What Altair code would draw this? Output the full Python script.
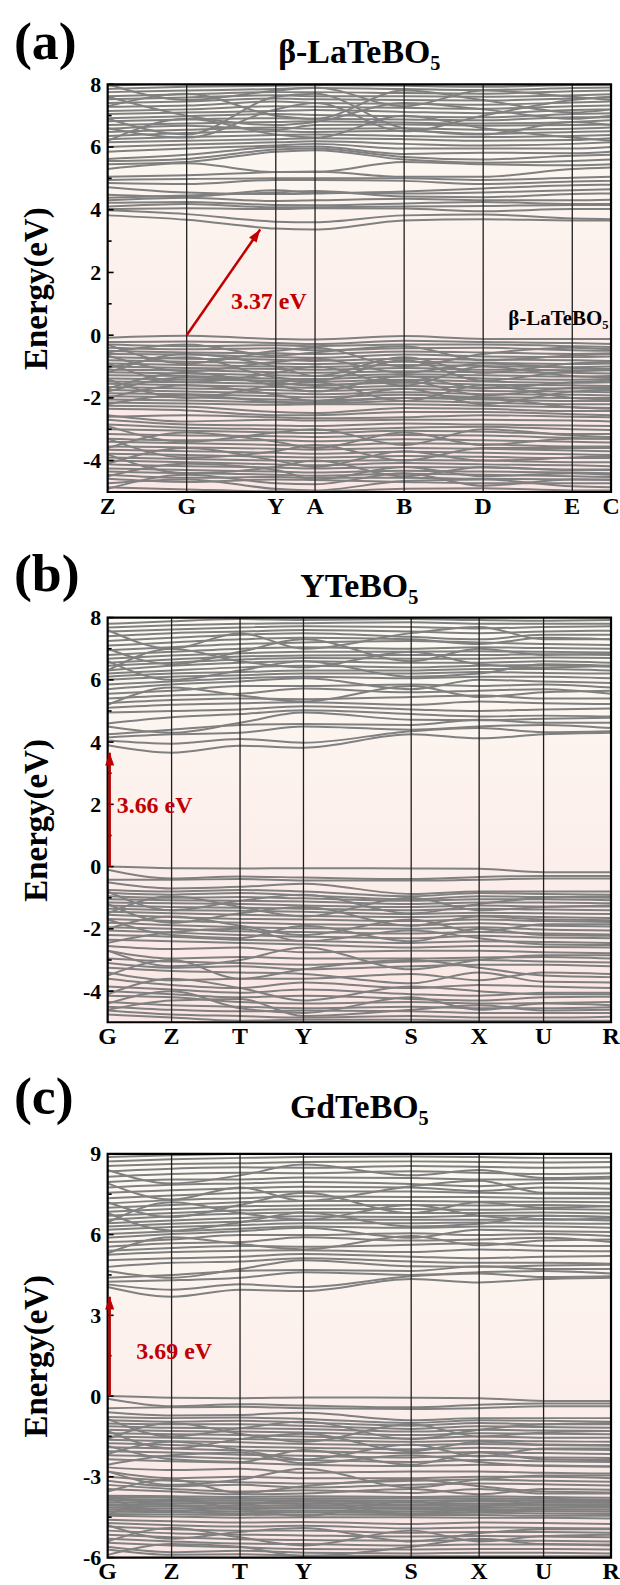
import math
import altair as alt
import pandas as pd

FONT = "Liberation Serif"
W = 505
BAND_COLOR = "#808080"
RED = "#c00000"

# ---------------- (a) beta-LaTeBO5 ----------------
A_NAME = "β-LaTeBO₅"
A_KLABELS = ["Z", "G", "Y", "A", "B", "D", "E", "C"]
A_KPOS = [0.0, 0.157, 0.334, 0.412, 0.589, 0.746, 0.923, 1.0]
A_YDOMAIN = [-5, 8]
A_TICKS = [-4, -2, 0, 2, 4, 6, 8]
A_MINOR = [-3, -1, 1, 3, 5, 7]
A_GAP = 3.37
A_CB = [
    [3.82, 3.68, 3.40, 3.37, 3.66, 3.70, 3.66, 3.66],
    [3.98, 3.86, 3.62, 3.60, 3.82, 3.85, 3.72, 3.70],
    [4.02, 4.05, 4.02, 4.05, 4.04, 3.95, 4.02, 4.02],
    [4.10, 4.18, 4.08, 4.08, 4.10, 4.12, 4.15, 4.15],
    [4.22, 4.25, 4.15, 4.14, 4.20, 4.25, 4.18, 4.18],
    [4.30, 4.38, 4.28, 4.30, 4.35, 4.30, 4.30, 4.32],
    [4.38, 4.45, 4.55, 4.60, 4.42, 4.40, 4.50, 4.52],
    [4.48, 4.42, 4.62, 4.55, 4.52, 4.55, 4.62, 4.65],
    [4.72, 4.55, 4.50, 4.52, 4.58, 4.68, 4.78, 4.80],
    [4.85, 4.82, 4.95, 4.95, 4.92, 4.82, 4.90, 4.92],
    [4.95, 4.98, 5.00, 5.00, 5.00, 4.95, 5.02, 5.05],
    [5.05, 5.10, 5.20, 5.22, 5.05, 5.05, 5.30, 5.35],
    [5.30, 5.48, 5.20, 5.20, 5.52, 5.45, 5.42, 5.45],
    [5.45, 5.52, 5.85, 5.90, 5.60, 5.50, 5.55, 5.60],
    [5.55, 5.62, 5.92, 5.95, 5.68, 5.60, 5.72, 5.75],
    [5.62, 5.75, 6.00, 6.02, 5.78, 5.82, 5.80, 5.85],
    [5.85, 5.95, 6.05, 6.10, 5.95, 5.95, 5.95, 6.00],
    [6.00, 6.08, 6.15, 6.18, 6.10, 6.05, 6.10, 6.15],
    [6.15, 6.20, 6.25, 6.28, 6.25, 6.20, 6.22, 6.28],
    [6.25, 6.32, 6.38, 6.40, 6.35, 6.32, 6.35, 6.38],
    [6.35, 6.45, 6.50, 6.48, 6.52, 6.42, 6.48, 6.50],
    [6.48, 6.55, 6.62, 6.58, 6.60, 6.55, 6.58, 6.62],
    [6.58, 6.68, 6.55, 6.70, 6.72, 6.68, 6.70, 6.72],
    [6.70, 6.75, 6.80, 6.82, 6.78, 6.75, 6.80, 6.85],
    [6.82, 6.88, 6.92, 6.90, 6.88, 6.85, 6.95, 6.95],
    [6.92, 6.98, 7.05, 7.02, 6.98, 6.95, 7.05, 7.08],
    [7.05, 7.10, 7.15, 7.18, 7.12, 7.08, 7.18, 7.20],
    [7.15, 7.20, 7.30, 7.28, 7.25, 7.22, 7.30, 7.32],
    [7.28, 7.32, 7.45, 7.40, 7.38, 7.35, 7.42, 7.45],
    [7.40, 7.45, 7.55, 7.52, 7.50, 7.48, 7.55, 7.58],
    [7.52, 7.58, 7.65, 7.62, 7.62, 7.60, 7.65, 7.68],
    [7.62, 7.68, 7.75, 7.75, 7.72, 7.70, 7.78, 7.80],
    [7.75, 7.80, 7.85, 7.88, 7.85, 7.82, 7.88, 7.90],
    [7.85, 7.92, 7.95, 7.98, 7.95, 7.92, 7.98, 8.00],
    [7.95, 8.05, 8.10, 8.05, 8.08, 8.02, 8.08, 8.10],
    [6.20, 6.90, 6.40, 6.30, 7.00, 6.60, 6.30, 6.20],
    [7.60, 7.00, 6.70, 6.80, 7.40, 7.20, 6.90, 7.00],
    [6.60, 6.30, 7.20, 7.40, 6.50, 7.00, 7.50, 7.60],
    [7.30, 7.70, 7.00, 6.90, 7.80, 7.50, 7.10, 7.20],
    [6.90, 6.40, 7.60, 7.70, 6.60, 6.40, 6.80, 6.70],
    [8.00, 7.50, 7.80, 7.90, 7.30, 7.80, 7.60, 7.50],
]
A_VB = [
    [-0.08, -0.02, -0.12, -0.14, -0.03, -0.12, -0.12, -0.12],
    [-0.22, -0.20, -0.25, -0.28, -0.18, -0.22, -0.25, -0.28],
    [-0.30, -0.35, -0.32, -0.35, -0.30, -0.30, -0.35, -0.38],
    [-0.40, -0.45, -0.42, -0.48, -0.42, -0.40, -0.48, -0.50],
    [-0.50, -0.55, -0.58, -0.60, -0.52, -0.55, -0.60, -0.58],
    [-0.60, -0.62, -0.70, -0.72, -0.62, -0.68, -0.70, -0.68],
    [-0.70, -0.75, -0.78, -0.82, -0.75, -0.78, -0.80, -0.82],
    [-0.80, -0.85, -0.90, -0.92, -0.85, -0.88, -0.92, -0.90],
    [-0.90, -0.95, -1.00, -1.02, -0.95, -0.98, -1.02, -1.00],
    [-1.00, -1.05, -1.08, -1.10, -1.05, -1.10, -1.12, -1.10],
    [-1.10, -1.12, -1.18, -1.20, -1.15, -1.18, -1.20, -1.22],
    [-1.18, -1.22, -1.28, -1.30, -1.25, -1.28, -1.32, -1.30],
    [-1.28, -1.30, -1.38, -1.40, -1.32, -1.38, -1.42, -1.40],
    [-1.38, -1.42, -1.45, -1.48, -1.42, -1.48, -1.52, -1.50],
    [-1.48, -1.50, -1.55, -1.58, -1.52, -1.58, -1.60, -1.62],
    [-1.55, -1.60, -1.65, -1.68, -1.62, -1.68, -1.70, -1.72],
    [-1.65, -1.70, -1.75, -1.78, -1.72, -1.78, -1.80, -1.82],
    [-1.75, -1.80, -1.85, -1.88, -1.82, -1.88, -1.90, -1.92],
    [-1.85, -1.88, -1.95, -1.98, -1.90, -1.98, -2.00, -2.00],
    [-1.95, -1.98, -2.05, -2.08, -2.00, -2.05, -2.10, -2.10],
    [-2.05, -2.08, -2.15, -2.18, -2.10, -2.15, -2.20, -2.20],
    [-2.15, -2.18, -2.22, -2.20, -2.20, -2.25, -2.30, -2.32],
    [-2.25, -2.28, -2.45, -2.48, -2.32, -2.35, -2.42, -2.42],
    [-2.35, -2.40, -2.55, -2.55, -2.45, -2.45, -2.52, -2.55],
    [-0.30, -0.90, -0.50, -0.40, -1.00, -0.60, -0.40, -0.45],
    [-1.20, -0.60, -1.00, -1.30, -0.70, -1.20, -0.90, -0.85],
    [-0.90, -1.50, -1.20, -1.00, -1.60, -1.00, -1.30, -1.35],
    [-1.70, -1.20, -1.60, -1.80, -1.30, -1.70, -1.50, -1.45],
    [-2.00, -1.60, -1.90, -2.10, -1.70, -2.20, -1.80, -1.75],
    [-1.40, -2.00, -1.60, -1.50, -2.10, -1.60, -2.00, -2.05],
    [-0.55, -0.30, -0.65, -0.55, -0.35, -0.80, -0.65, -0.60],
    [-2.20, -1.90, -2.12, -2.14, -2.00, -2.00, -2.30, -2.35],
    [-0.65, -1.15, -0.85, -0.75, -1.20, -0.90, -1.05, -1.08],
    [-1.05, -0.70, -1.35, -1.45, -0.80, -1.45, -1.15, -1.12],
    [-1.80, -1.35, -1.50, -1.62, -1.45, -1.92, -1.68, -1.66],
    [-2.60, -2.55, -2.62, -2.65, -2.62, -2.55, -2.60, -2.62],
    [-2.55, -2.75, -2.70, -2.72, -2.70, -2.70, -2.72, -2.75],
    [-2.70, -2.85, -2.88, -2.90, -2.82, -2.85, -2.88, -2.90],
    [-2.85, -2.95, -3.00, -3.02, -2.95, -2.92, -3.00, -3.02],
    [-3.00, -3.05, -3.10, -3.12, -3.05, -3.08, -3.15, -3.15],
    [-3.15, -3.20, -3.22, -3.25, -3.18, -3.20, -3.28, -3.30],
    [-3.30, -3.35, -3.35, -3.38, -3.32, -3.35, -3.40, -3.42],
    [-3.40, -3.45, -3.50, -3.52, -3.45, -3.48, -3.55, -3.55],
    [-3.55, -3.58, -3.62, -3.65, -3.60, -3.62, -3.68, -3.70],
    [-3.65, -3.70, -3.75, -3.78, -3.72, -3.75, -3.80, -3.82],
    [-3.78, -3.82, -3.88, -3.90, -3.85, -3.88, -3.92, -3.92],
    [-3.90, -3.95, -4.00, -4.02, -3.98, -4.00, -4.05, -4.05],
    [-4.00, -4.05, -4.12, -4.15, -4.08, -4.12, -4.15, -4.18],
    [-4.12, -4.18, -4.22, -4.25, -4.20, -4.22, -4.28, -4.28],
    [-4.25, -4.30, -4.35, -4.38, -4.32, -4.35, -4.38, -4.40],
    [-4.35, -4.40, -4.45, -4.48, -4.42, -4.45, -4.50, -4.52],
    [-4.45, -4.55, -4.52, -4.55, -4.55, -4.58, -4.60, -4.62],
    [-4.58, -4.68, -4.60, -4.62, -4.68, -4.72, -4.72, -4.72],
    [-4.72, -4.60, -4.90, -4.95, -4.65, -4.60, -4.82, -4.85],
    [-4.85, -4.92, -4.98, -4.98, -4.90, -4.88, -4.95, -4.95],
    [-2.90, -3.40, -3.10, -3.00, -3.50, -3.00, -3.20, -3.25],
    [-3.60, -3.10, -3.40, -3.60, -3.10, -3.50, -3.30, -3.30],
    [-3.30, -3.90, -3.70, -3.50, -4.00, -3.60, -3.60, -3.60],
    [-4.10, -3.60, -4.00, -4.20, -3.70, -4.00, -3.90, -3.85],
    [-3.80, -4.40, -4.20, -4.00, -4.50, -4.20, -4.30, -4.30],
    [-4.50, -4.10, -4.30, -4.60, -4.20, -4.50, -4.40, -4.45],
    [-4.90, -4.45, -4.72, -4.75, -4.40, -4.80, -4.60, -4.60],
]

# ---------------- (b) YTeBO5 ----------------
B_NAME = "YTeBO₅"
B_KLABELS = ["G", "Z", "T", "Y", "S", "X", "U", "R"]
B_KPOS = [0.0, 0.127, 0.263, 0.389, 0.603, 0.738, 0.866, 1.0]
B_YDOMAIN = [-5, 8]
B_TICKS = [-4, -2, 0, 2, 4, 6, 8]
B_MINOR = [-3, -1, 1, 3, 5, 7]
B_GAP = 3.66
B_CB = [
    [3.90, 3.66, 3.88, 3.82, 4.25, 4.12, 4.25, 4.30],
    [4.05, 3.95, 4.10, 3.98, 4.35, 4.45, 4.32, 4.35],
    [4.15, 4.25, 4.30, 4.50, 4.40, 4.50, 4.55, 4.45],
    [4.25, 4.40, 4.55, 4.58, 4.55, 4.72, 4.62, 4.62],
    [4.50, 4.30, 4.62, 4.95, 4.72, 4.70, 4.75, 4.78],
    [4.60, 4.80, 4.90, 5.02, 4.90, 4.82, 4.85, 4.82],
    [4.95, 5.00, 5.05, 5.15, 5.05, 5.00, 5.05, 5.08],
    [5.10, 5.20, 5.25, 5.28, 5.20, 5.30, 5.25, 5.22],
    [5.25, 5.35, 5.40, 5.38, 5.45, 5.50, 5.40, 5.40],
    [5.40, 5.50, 5.55, 5.72, 5.60, 5.65, 5.70, 5.55],
    [5.55, 5.65, 5.80, 5.80, 5.85, 5.80, 5.85, 5.75],
    [5.70, 5.85, 5.95, 6.05, 5.70, 6.00, 5.95, 5.90],
    [5.85, 5.95, 6.05, 6.10, 6.05, 6.10, 6.10, 6.05],
    [6.00, 6.10, 6.15, 6.20, 6.20, 6.25, 6.22, 6.20],
    [6.10, 6.20, 6.25, 6.30, 6.30, 6.35, 6.35, 6.30],
    [6.20, 6.30, 6.40, 6.45, 6.40, 6.45, 6.48, 6.42],
    [6.30, 6.45, 6.55, 6.60, 6.55, 6.55, 6.60, 6.55],
    [6.45, 6.55, 6.65, 6.70, 6.68, 6.68, 6.72, 6.70],
    [6.55, 6.65, 6.75, 6.78, 6.80, 6.80, 6.82, 6.80],
    [6.68, 6.78, 6.85, 6.90, 6.90, 6.92, 6.90, 6.88],
    [6.80, 6.90, 7.00, 7.05, 7.00, 7.05, 7.02, 7.00],
    [6.95, 7.05, 7.15, 7.20, 7.25, 7.20, 7.15, 7.12],
    [7.10, 7.20, 7.30, 7.35, 7.30, 7.15, 7.35, 7.30],
    [7.25, 7.35, 7.45, 7.50, 7.38, 7.30, 7.45, 7.45],
    [7.40, 7.50, 7.55, 7.60, 7.55, 7.50, 7.55, 7.58],
    [7.55, 7.62, 7.68, 7.72, 7.70, 7.65, 7.70, 7.72],
    [7.68, 7.75, 7.80, 7.82, 7.85, 7.80, 7.80, 7.80],
    [7.80, 7.88, 7.95, 7.92, 7.95, 7.92, 7.90, 7.92],
    [6.30, 7.00, 6.60, 6.40, 6.90, 6.50, 6.40, 6.45],
    [7.00, 6.50, 6.90, 7.30, 6.60, 7.00, 6.80, 6.85],
    [7.60, 7.00, 7.50, 7.00, 7.50, 7.70, 7.30, 7.30],
    [5.20, 5.75, 5.50, 5.30, 5.80, 5.45, 5.60, 5.65],
    [6.60, 6.00, 6.30, 6.60, 6.10, 6.20, 6.50, 6.45],
]
B_VB = [
    [0.00, -0.05, -0.06, -0.05, -0.06, -0.07, -0.18, -0.18],
    [-0.10, -0.38, -0.32, -0.35, -0.40, -0.33, -0.30, -0.30],
    [-0.42, -0.42, -0.40, -0.45, -0.45, -0.42, -0.38, -0.38],
    [-0.50, -0.70, -0.65, -0.55, -0.88, -0.80, -0.80, -0.80],
    [-0.75, -0.80, -0.75, -0.80, -0.95, -0.85, -0.88, -0.90],
    [-0.85, -0.90, -0.85, -0.92, -1.05, -0.95, -0.98, -1.00],
    [-0.95, -1.00, -0.98, -1.02, -1.10, -1.05, -1.05, -1.08],
    [-1.05, -1.08, -1.10, -1.12, -1.20, -1.15, -1.15, -1.18],
    [-1.15, -1.18, -1.20, -1.25, -1.30, -1.25, -1.28, -1.28],
    [-1.25, -1.30, -1.32, -1.35, -1.40, -1.35, -1.38, -1.40],
    [-1.35, -1.40, -1.42, -1.45, -1.52, -1.48, -1.50, -1.52],
    [-1.45, -1.50, -1.55, -1.58, -1.62, -1.58, -1.62, -1.65],
    [-1.55, -1.62, -1.68, -1.70, -1.75, -1.70, -1.75, -1.78],
    [-1.68, -1.75, -1.80, -1.85, -1.88, -1.82, -1.90, -1.92],
    [-1.80, -1.88, -1.95, -1.98, -2.00, -1.95, -2.02, -2.05],
    [-1.95, -2.00, -2.08, -2.10, -2.15, -2.10, -2.15, -2.18],
    [-2.05, -2.12, -2.20, -2.25, -2.30, -2.22, -2.28, -2.30],
    [-2.20, -2.25, -2.35, -2.38, -2.45, -2.40, -2.42, -2.45],
    [-2.35, -2.40, -2.45, -2.50, -2.60, -2.55, -2.58, -2.60],
    [-0.80, -1.40, -1.10, -0.90, -1.50, -1.20, -1.00, -0.95],
    [-1.50, -0.95, -1.30, -1.60, -1.00, -1.40, -1.30, -1.25],
    [-1.20, -1.80, -1.50, -1.30, -1.90, -1.60, -1.70, -1.72],
    [-2.00, -1.60, -1.90, -2.20, -1.70, -2.10, -1.85, -1.85],
    [-1.70, -2.20, -2.30, -1.90, -2.40, -2.00, -2.20, -2.22],
    [-2.45, -2.10, -2.00, -2.40, -2.05, -2.30, -2.50, -2.52],
    [-2.55, -2.65, -2.60, -2.75, -2.70, -2.70, -2.75, -2.78],
    [-2.70, -2.95, -2.90, -2.95, -2.95, -2.92, -2.90, -2.95],
    [-2.95, -3.05, -3.10, -3.15, -3.05, -3.00, -3.05, -3.08],
    [-3.10, -3.25, -3.20, -3.30, -3.20, -3.15, -3.15, -3.20],
    [-3.25, -3.35, -3.40, -3.45, -3.75, -3.40, -3.70, -3.72],
    [-3.40, -3.65, -3.60, -3.60, -3.45, -3.65, -3.40, -3.45],
    [-3.60, -3.80, -3.90, -3.72, -3.90, -3.80, -3.85, -3.90],
    [-3.85, -3.95, -4.05, -3.95, -4.10, -4.15, -4.05, -4.05],
    [-4.00, -4.10, -4.20, -4.15, -4.25, -4.30, -4.20, -4.18],
    [-4.15, -4.20, -4.35, -4.40, -4.35, -4.40, -4.38, -4.35],
    [-4.35, -4.45, -4.50, -4.55, -4.50, -4.55, -4.55, -4.52],
    [-4.50, -4.60, -4.65, -4.62, -4.65, -4.70, -4.70, -4.70],
    [-4.62, -4.75, -4.80, -4.85, -4.80, -4.85, -4.85, -4.82],
    [-4.75, -4.85, -4.95, -4.92, -4.92, -4.95, -4.95, -4.95],
    [-2.70, -3.20, -3.00, -2.60, -3.30, -3.00, -2.85, -2.85],
    [-3.50, -3.00, -3.60, -3.30, -3.00, -3.25, -3.50, -3.55],
    [-4.10, -3.60, -3.90, -4.30, -3.85, -4.00, -4.10, -4.10],
    [-4.40, -4.00, -4.55, -4.70, -4.20, -4.60, -4.40, -4.45],
    [-4.60, -4.30, -4.25, -4.80, -4.60, -4.45, -4.62, -4.60],
]

# ---------------- (c) GdTeBO5 ----------------
C_NAME = "GdTeBO₅"
C_KLABELS = ["G", "Z", "T", "Y", "S", "X", "U", "R"]
C_KPOS = [0.0, 0.127, 0.263, 0.389, 0.603, 0.738, 0.866, 1.0]
C_YDOMAIN = [-6, 9]
C_TICKS = [-6, -3, 0, 3, 6, 9]
C_MINOR = [-4.5, -1.5, 1.5, 4.5, 7.5]
C_GAP = 3.69
C_CB = [
    [4.05, 3.69, 3.95, 3.90, 4.35, 4.22, 4.35, 4.40],
    [4.15, 3.95, 4.15, 4.05, 4.45, 4.55, 4.42, 4.45],
    [4.25, 4.30, 4.40, 4.60, 4.50, 4.60, 4.65, 4.55],
    [4.40, 4.50, 4.65, 4.68, 4.65, 4.82, 4.72, 4.72],
    [4.65, 4.40, 4.72, 5.05, 4.82, 4.80, 4.85, 4.88],
    [4.80, 4.95, 5.00, 5.12, 5.00, 4.95, 4.95, 4.92],
    [5.05, 5.12, 5.18, 5.28, 5.18, 5.12, 5.18, 5.20],
    [5.25, 5.35, 5.40, 5.42, 5.35, 5.45, 5.40, 5.38],
    [5.40, 5.50, 5.58, 5.55, 5.62, 5.68, 5.58, 5.58],
    [5.55, 5.68, 5.72, 5.90, 5.78, 5.82, 5.88, 5.72],
    [5.72, 5.82, 5.98, 5.98, 6.05, 5.98, 6.02, 5.95],
    [5.88, 6.02, 6.12, 6.25, 5.88, 6.18, 6.12, 6.10],
    [6.02, 6.12, 6.22, 6.30, 6.25, 6.30, 6.30, 6.25],
    [6.18, 6.28, 6.35, 6.42, 6.42, 6.45, 6.42, 6.40],
    [6.30, 6.40, 6.48, 6.55, 6.55, 6.55, 6.58, 6.52],
    [6.42, 6.52, 6.62, 6.68, 6.65, 6.70, 6.70, 6.65],
    [6.55, 6.68, 6.78, 6.82, 6.80, 6.80, 6.82, 6.78],
    [6.70, 6.80, 6.90, 6.95, 6.95, 6.92, 6.95, 6.92],
    [6.85, 6.95, 7.05, 7.08, 7.10, 7.08, 7.10, 7.05],
    [7.00, 7.10, 7.20, 7.25, 7.25, 7.22, 7.22, 7.20],
    [7.15, 7.28, 7.35, 7.42, 7.40, 7.40, 7.35, 7.35],
    [7.35, 7.45, 7.55, 7.60, 7.60, 7.55, 7.52, 7.50],
    [7.55, 7.65, 7.72, 7.78, 7.75, 7.62, 7.75, 7.70],
    [7.75, 7.85, 7.90, 7.95, 7.88, 7.80, 7.92, 7.90],
    [7.95, 8.05, 8.05, 8.12, 8.10, 8.05, 8.05, 8.08],
    [8.15, 8.25, 8.30, 8.28, 8.35, 8.30, 8.25, 8.28],
    [8.35, 8.45, 8.50, 8.48, 8.55, 8.52, 8.48, 8.50],
    [8.55, 8.62, 8.65, 8.70, 8.72, 8.70, 8.68, 8.70],
    [8.72, 8.80, 8.85, 8.88, 8.90, 8.88, 8.85, 8.85],
    [8.88, 8.95, 9.00, 9.02, 9.05, 9.00, 9.00, 9.02],
    [6.45, 7.20, 6.80, 6.55, 7.10, 6.70, 6.55, 6.60],
    [7.20, 6.65, 7.10, 7.55, 6.80, 7.20, 7.00, 7.05],
    [7.90, 7.30, 7.75, 7.25, 7.80, 8.00, 7.55, 7.55],
    [5.30, 5.90, 5.65, 5.45, 5.95, 5.60, 5.78, 5.82],
    [6.80, 6.15, 6.45, 6.82, 6.30, 6.40, 6.70, 6.65],
    [8.40, 7.90, 8.20, 8.60, 8.20, 8.40, 8.10, 8.15],
]
C_VB = [
    [0.00, -0.06, -0.08, -0.05, -0.06, -0.08, -0.18, -0.18],
    [-0.10, -0.38, -0.30, -0.35, -0.42, -0.32, -0.28, -0.28],
    [-0.45, -0.42, -0.40, -0.45, -0.48, -0.45, -0.38, -0.38],
    [-0.60, -0.72, -0.70, -0.62, -0.90, -0.82, -0.82, -0.82],
    [-0.78, -0.82, -0.80, -0.85, -1.00, -0.90, -0.92, -0.95],
    [-0.90, -0.95, -0.92, -0.98, -1.10, -1.00, -1.05, -1.05],
    [-1.02, -1.05, -1.05, -1.10, -1.22, -1.12, -1.15, -1.18],
    [-1.12, -1.18, -1.20, -1.22, -1.32, -1.25, -1.28, -1.30],
    [-1.25, -1.30, -1.32, -1.35, -1.45, -1.38, -1.40, -1.42],
    [-1.38, -1.42, -1.45, -1.50, -1.58, -1.50, -1.55, -1.55],
    [-1.50, -1.55, -1.60, -1.62, -1.70, -1.65, -1.68, -1.70],
    [-1.62, -1.68, -1.72, -1.78, -1.82, -1.78, -1.82, -1.85],
    [-1.75, -1.82, -1.88, -1.92, -1.98, -1.92, -1.98, -2.00],
    [-1.90, -1.95, -2.02, -2.05, -2.12, -2.08, -2.12, -2.15],
    [-2.05, -2.10, -2.18, -2.22, -2.28, -2.22, -2.28, -2.30],
    [-2.20, -2.25, -2.32, -2.38, -2.45, -2.38, -2.42, -2.45],
    [-2.35, -2.42, -2.48, -2.55, -2.60, -2.55, -2.58, -2.62],
    [-0.85, -1.50, -1.20, -0.95, -1.60, -1.25, -1.05, -1.00],
    [-1.60, -1.00, -1.40, -1.70, -1.05, -1.50, -1.35, -1.30],
    [-1.30, -1.95, -1.60, -1.40, -2.05, -1.70, -1.80, -1.82],
    [-2.15, -1.70, -2.00, -2.35, -1.80, -2.25, -1.95, -1.95],
    [-1.85, -2.35, -2.45, -2.00, -2.55, -2.10, -2.35, -2.38],
    [-2.55, -2.20, -2.10, -2.50, -2.20, -2.45, -2.60, -2.62],
    [-2.65, -2.75, -2.70, -2.85, -2.80, -2.80, -2.85, -2.88],
    [-2.80, -3.05, -3.00, -3.05, -3.05, -3.00, -3.00, -3.05],
    [-3.00, -3.15, -3.20, -3.25, -3.15, -3.10, -3.15, -3.18],
    [-3.15, -3.35, -3.30, -3.40, -3.30, -3.25, -3.28, -3.32],
    [-3.30, -3.45, -3.55, -3.50, -3.60, -3.45, -3.62, -3.62],
    [-3.45, -3.55, -3.65, -3.62, -3.45, -3.65, -3.45, -3.48],
    [-2.80, -3.30, -3.10, -2.70, -3.40, -3.10, -2.95, -2.95],
    [-3.55, -3.10, -3.60, -3.35, -3.10, -3.35, -3.55, -3.58],
    [-3.70, -3.72, -3.75, -3.72, -3.75, -3.72, -3.75, -3.78],
    [-3.75, -3.78, -3.82, -3.80, -3.80, -3.80, -3.82, -3.85],
    [-3.82, -3.85, -3.88, -3.86, -3.88, -3.86, -3.88, -3.90],
    [-3.88, -3.92, -3.95, -3.92, -3.95, -3.92, -3.95, -3.96],
    [-3.95, -3.98, -4.00, -3.98, -4.02, -4.00, -4.02, -4.02],
    [-4.02, -4.05, -4.08, -4.05, -4.08, -4.06, -4.08, -4.08],
    [-4.08, -4.10, -4.14, -4.12, -4.14, -4.12, -4.15, -4.15],
    [-4.15, -4.18, -4.20, -4.18, -4.20, -4.20, -4.22, -4.22],
    [-4.22, -4.25, -4.28, -4.26, -4.28, -4.26, -4.28, -4.30],
    [-4.30, -4.32, -4.35, -4.32, -4.35, -4.34, -4.36, -4.38],
    [-4.38, -4.40, -4.42, -4.40, -4.42, -4.42, -4.45, -4.45],
    [-4.45, -4.48, -4.52, -4.50, -4.50, -4.52, -4.52, -4.55],
    [-3.80, -4.30, -4.05, -3.90, -4.40, -4.10, -3.95, -3.95],
    [-4.40, -3.85, -4.20, -4.45, -3.90, -4.30, -4.15, -4.10],
    [-4.60, -4.65, -4.70, -4.68, -4.75, -4.70, -4.72, -4.75],
    [-4.72, -4.80, -4.85, -4.82, -4.92, -4.88, -4.90, -4.92],
    [-4.85, -4.95, -5.00, -5.00, -5.08, -5.05, -5.05, -5.08],
    [-5.00, -5.10, -5.15, -5.18, -5.22, -5.20, -5.22, -5.25],
    [-5.15, -5.25, -5.32, -5.35, -5.38, -5.35, -5.38, -5.40],
    [-5.30, -5.40, -5.48, -5.50, -5.55, -5.52, -5.52, -5.55],
    [-5.45, -5.55, -5.62, -5.68, -5.70, -5.68, -5.68, -5.70],
    [-5.60, -5.80, -5.75, -5.82, -5.85, -5.82, -5.82, -5.85],
    [-5.70, -5.90, -5.88, -5.92, -5.95, -5.95, -5.95, -5.95],
    [-4.80, -5.30, -5.05, -4.90, -5.40, -5.10, -4.95, -4.95],
    [-5.40, -4.90, -5.25, -5.55, -5.00, -5.40, -5.20, -5.15],
    [-5.90, -5.50, -5.60, -5.95, -5.60, -5.30, -5.50, -5.52],
]

PANELS = [
    dict(letter="(a)", name=A_NAME, klabels=A_KLABELS, kpos=A_KPOS,
         ydomain=A_YDOMAIN, ticks=A_TICKS, minor=A_MINOR, bands=A_CB + A_VB,
         gap=A_GAP, arrow_k=(0.157, 0.303), label_at=(0.245, 1.07),
         height=409, letter_y=-25, title_y=-21,
         inner=dict(text=A_NAME, k=0.995, e=0.5)),
    dict(letter="(b)", name=B_NAME, klabels=B_KLABELS, kpos=B_KPOS,
         ydomain=B_YDOMAIN, ticks=B_TICKS, minor=B_MINOR, bands=B_CB + B_VB,
         gap=B_GAP, arrow_k=(0.004, 0.004), label_at=(0.018, 1.95),
         height=406, letter_y=-27, title_y=-21, inner=None),
    dict(letter="(c)", name=C_NAME, klabels=C_KLABELS, kpos=C_KPOS,
         ydomain=C_YDOMAIN, ticks=C_TICKS, minor=C_MINOR, bands=C_CB + C_VB,
         gap=C_GAP, arrow_k=(0.004, 0.004), label_at=(0.057, 1.63),
         height=405, letter_y=-40, title_y=-36, inner=None),
]

one = pd.DataFrame({"d": [0]})


def build_panel(p):
    h = p["height"]
    xs = alt.Scale(domain=[0, 1], nice=False, zero=False)
    ys = alt.Scale(domain=p["ydomain"], nice=False, zero=False)
    # one shared axis definition, repeated in every layer that encodes y,
    # so the layered axes merge instead of cancelling each other
    yaxis = alt.Axis(
        values=p["ticks"], title="Energy(eV)", labelExpr="'' + datum.value",
        labelFont=FONT, labelFontSize=22, labelFontWeight="bold", labelColor="black",
        labelPadding=7, ticks=False, tickSize=0, domain=False, grid=False,
        titleFont=FONT, titleFontSize=33, titleFontWeight="bold", titleColor="black",
        titleX=-54)

    def xk(f="k"):
        return alt.X(f"{f}:Q", scale=xs, axis=None)

    def ye(f="E"):
        return alt.Y(f"{f}:Q", scale=ys, axis=yaxis)

    rows = []
    for i, band in enumerate(p["bands"]):
        for k, e in zip(p["kpos"], band):
            rows.append({"band": i, "k": k, "E": e})
    bands_df = pd.DataFrame(rows)

    bg_fill = alt.LinearGradient(
        gradient="linear",
        stops=[alt.GradientStop(color="#fdfaf3", offset=0),
               alt.GradientStop(color="#fcf1ed", offset=0.45),
               alt.GradientStop(color="#fbe7e5", offset=1)],
        x1=0, x2=0, y1=0, y2=1)
    bg = alt.Chart(one).mark_rect(fill=bg_fill).encode(
        x=alt.value(0), x2=alt.value("width"), y=alt.value(0), y2=alt.value("height"))

    lines = alt.Chart(bands_df).mark_line(
        color=BAND_COLOR, strokeWidth=2.0, interpolate="monotone", clip=True
    ).encode(x=xk(), y=ye(), detail="band:N")

    inner_k = pd.DataFrame({"k": p["kpos"][1:-1]})
    vlines = alt.Chart(inner_k).mark_rule(color="#1e1e1e", strokeWidth=1.3).encode(x=xk())

    frame = alt.Chart(one).mark_rect(fillOpacity=0, stroke="black", strokeWidth=2.2).encode(
        x=alt.value(0), x2=alt.value("width"), y=alt.value(0), y2=alt.value("height"))

    major = alt.Chart(pd.DataFrame({"E": p["ticks"]})).mark_rule(
        color="black", strokeWidth=1.6).encode(x=alt.value(0), x2=alt.value(6), y=ye())
    minor = alt.Chart(pd.DataFrame({"E": p["minor"]})).mark_rule(
        color="black", strokeWidth=1.6).encode(x=alt.value(0), x2=alt.value(4), y=ye())

    k0, k1 = p["arrow_k"]
    arr = pd.DataFrame({"k": [k0], "E": [0.0], "k2": [k1], "E2": [p["gap"]]})
    span = p["ydomain"][1] - p["ydomain"][0]
    angle = math.degrees(math.atan2((k1 - k0) * W, p["gap"] * h / span))
    shaft = alt.Chart(arr).mark_rule(color=RED, strokeWidth=2.5).encode(
        x=xk(), y=ye(), x2="k2:Q", y2="E2:Q")
    head = alt.Chart(arr).mark_point(
        shape="M0,0L-0.75,2.1L0.75,2.1Z", filled=True, color=RED, opacity=1,
        size=150, angle=angle, strokeWidth=0).encode(x=xk("k2"), y=ye("E2"))

    lab = pd.DataFrame({"k": [p["label_at"][0]], "E": [p["label_at"][1]],
                        "t": [f"{p['gap']:.2f} eV"]})
    gap_text = alt.Chart(lab).mark_text(
        font=FONT, fontSize=24, fontWeight="bold", color=RED, align="left",
        baseline="middle").encode(x=xk(), y=ye(), text="t:N")

    klab = pd.DataFrame({"k": p["kpos"], "lab": p["klabels"]})
    xlabels = alt.Chart(klab).mark_text(
        font=FONT, fontSize=24, fontWeight="bold", color="black", baseline="top"
    ).encode(x=xk(), y=alt.value(h + 3), text="lab:N")

    letter = alt.Chart(one).mark_text(
        font=FONT, fontSize=54, fontWeight="bold", color="black", align="left",
        baseline="alphabetic").encode(x=alt.value(-94), y=alt.value(p["letter_y"]),
                                      text=alt.value(p["letter"]))
    title = alt.Chart(one).mark_text(
        font=FONT, fontSize=34, fontWeight="bold", color="black", align="center",
        baseline="alphabetic").encode(x=alt.value(W / 2), y=alt.value(p["title_y"]),
                                      text=alt.value(p["name"]))

    layers = [bg, lines, vlines, frame, major, minor, shaft, head, gap_text,
              xlabels, letter, title]
    if p["inner"]:
        inn = pd.DataFrame({"k": [p["inner"]["k"]], "E": [p["inner"]["e"]],
                            "t": [p["inner"]["text"]]})
        layers.append(alt.Chart(inn).mark_text(
            font=FONT, fontSize=21, fontWeight="bold", color="black", align="right",
            baseline="middle").encode(x=xk(), y=ye(), text="t:N"))
    return alt.layer(*layers).properties(width=W, height=h)


pa, pb, pc = [build_panel(p) for p in PANELS]

chart = alt.vconcat(
    alt.vconcat(pa, pb, spacing=29), pc, spacing=22
).properties(
    padding={"left": 14, "top": 14, "right": 0, "bottom": 0},
    background="white",
).configure_view(stroke=None)

chart.save("out.html", embed_options={"renderer": "svg", "actions": False})
